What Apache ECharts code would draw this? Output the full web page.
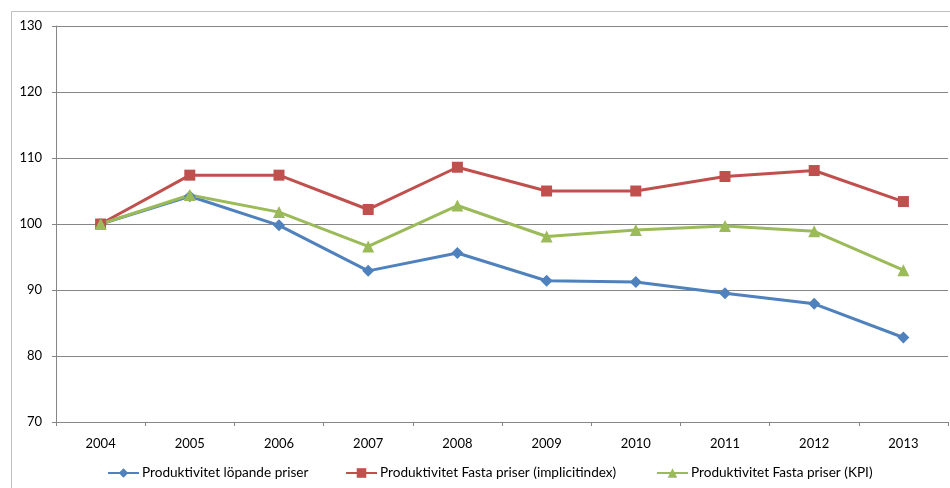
<!DOCTYPE html>
<html><head><meta charset="utf-8">
<script src="https://cdn.jsdelivr.net/npm/echarts@6/dist/echarts.min.js"></script>
<style>html,body{margin:0;padding:0;background:#fff}#c{width:950px;height:488px}</style>
</head><body><div id="c"></div>
<script>
var categories = ['2004','2005','2006','2007','2008','2009','2010','2011','2012','2013'];
var lopande = [100, 104.2, 99.8, 92.9, 95.6, 91.4, 91.2, 89.5, 87.9, 82.8];
var implicit = [100, 107.4, 107.4, 102.2, 108.6, 105.0, 105.0, 107.2, 108.1, 103.4];
var kpi = [100, 104.4, 101.8, 96.6, 102.8, 98.1, 99.1, 99.7, 98.9, 93.0];
var yTicks = {min: 70, max: 130, interval: 10};
var names = ['Produktivitet löpande priser','Produktivitet Fasta priser (implicitindex)','Produktivitet Fasta priser (KPI)'];

var chart = echarts.init(document.getElementById('c'), null, {renderer:'canvas'});
var font = 'Lato';
function s(name, data, color, symbol, size){
  return {name:name, type:'line', data:data, symbol:symbol, symbolSize:size,
    itemStyle:{color:color}, lineStyle:{color:color, width:3}, animation:false};
}
function lg(name, left){
  return {left:left, top:466, padding:0, itemWidth:31, itemHeight:12,
    textStyle:{color:'#000', fontFamily:font, fontSize:13.6, padding:[0,0,0,-2]},
    data:[name]};
}
chart.setOption({
  animation:false,
  graphic:[{type:'rect', shape:{x:11.5,y:11.5,width:960,height:500}, style:{fill:'none', stroke:'#bfbfbf', lineWidth:1}, silent:true}],
  grid:{left:56, right:2, top:26, bottom:66, containLabel:false},
  xAxis:{type:'category', data:categories, boundaryGap:true,
    axisLine:{lineStyle:{color:'#868686'}},
    axisTick:{show:true, length:4, lineStyle:{color:'#868686'}},
    axisLabel:{color:'#000', fontFamily:font, fontSize:13, margin:15},
    splitLine:{show:false}},
  yAxis:{type:'value', min:yTicks.min, max:yTicks.max, interval:yTicks.interval,
    axisLine:{show:true, lineStyle:{color:'#868686'}},
    axisTick:{show:true, length:4, lineStyle:{color:'#868686'}},
    axisLabel:{color:'#000', fontFamily:font, fontSize:13, margin:14},
    splitLine:{show:true, lineStyle:{color:'#868686', width:1}}},
  legend:[lg(names[0],107), lg(names[1],345), lg(names[2],656)],
  series:[
    s(names[0], lopande, '#4F81BD', 'diamond', 12),
    s(names[1], implicit, '#C0504D', 'rect', 11),
    s(names[2], kpi, '#9BBB59', 'triangle', 12)
  ]
});
</script></body></html>
